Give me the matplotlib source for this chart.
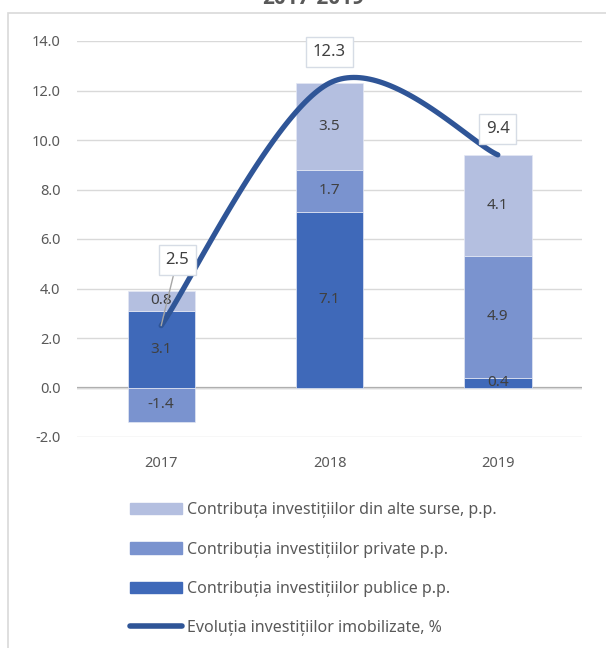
import matplotlib
matplotlib.use("Agg")
import matplotlib.pyplot as plt
from matplotlib.patches import Rectangle, Patch
from matplotlib.lines import Line2D
import numpy as np

plt.rcParams['font.family'] = ['Noto Sans', 'DejaVu Sans']

years = ['2017', '2018', '2019']
alte = [0.8, 3.5, 4.1]
private = [-1.4, 1.7, 4.9]
publice = [3.1, 7.1, 0.4]
evolutie = [2.5, 12.3, 9.4]
yticks = [-2, 0, 2, 4, 6, 8, 10, 12, 14]

c_alte = '#B4BFE0'
c_priv = '#7A93CF'
c_publ = '#3F69B9'
c_line = '#2F5597'
c_text = '#404040'
c_tick = '#595959'


def smooth(xs, ys, n=60):
    # Excel-like smoothed line (Catmull-Rom bezier through the points)
    px = np.array(xs, float)
    py = np.array(ys, float)
    outx, outy = [], []
    for i in range(len(px) - 1):
        i0 = max(i - 1, 0)
        i3 = min(i + 2, len(px) - 1)
        p0 = np.array([px[i], py[i]])
        p3 = np.array([px[i + 1], py[i + 1]])
        t0 = (np.array([px[i + 1], py[i + 1]]) - np.array([px[i0], py[i0]])) / 2
        t1 = (np.array([px[i3], py[i3]]) - np.array([px[i], py[i]])) / 2
        p1 = p0 + t0 / 3
        p2 = p3 - t1 / 3
        t = np.linspace(0, 1, n)[:, None]
        b = (1 - t) ** 3 * p0 + 3 * (1 - t) ** 2 * t * p1 + 3 * (1 - t) * t ** 2 * p2 + t ** 3 * p3
        outx.extend(b[:, 0])
        outy.extend(b[:, 1])
    return outx, outy


fig = plt.figure(figsize=(6.06, 6.48), dpi=100)
ax = fig.add_axes([77 / 606, 1 - 437 / 648, 505 / 606, 396 / 648])

x = np.arange(len(years))
pos_base = np.zeros(len(years))
neg_base = np.zeros(len(years))
for vals, col in [(publice, c_publ), (private, c_priv), (alte, c_alte)]:
    vals = np.array(vals)
    bottoms = np.where(vals >= 0, pos_base, neg_base)
    ax.bar(x, vals, 0.4, bottom=bottoms, color=col, edgecolor='#E4E8F4',
           linewidth=0.5, zorder=2)
    for xi, v, b in zip(x, vals, bottoms):
        ax.text(xi, b + v / 2, f'{v:.1f}', ha='center', va='center',
                fontsize=11, color=c_text, zorder=3)
    pos_base = pos_base + np.where(vals >= 0, vals, 0)
    neg_base = neg_base + np.where(vals < 0, vals, 0)

sx, sy = smooth(x, evolutie)
ax.plot(sx, sy, color=c_line, lw=3.8, solid_capstyle='round', zorder=4)

box = dict(boxstyle='square,pad=0.4', fc='white', ec='#D6DCE5', lw=1)
label_pos = [(0.095, 5.15), (1.0, 13.55), (2.0, 10.45)]
for i, (v, (lx, ly)) in enumerate(zip(evolutie, label_pos)):
    arrow = dict(arrowstyle='-', color='#A6A6A6', lw=1, shrinkA=0, shrinkB=0) if i == 0 else None
    ax.annotate(f'{v:.1f}', xy=(x[i], v), xytext=(lx, ly), ha='center', va='center',
                fontsize=12, color=c_text, bbox=box, arrowprops=arrow, zorder=5)

ax.set_xlim(-0.5, 2.5)
ax.set_ylim(-2, 14)
ax.set_yticks(yticks)
ax.set_yticklabels([f'{t:.1f}' for t in yticks])
ax.set_xticks(x)
ax.set_xticklabels(years)
ax.tick_params(axis='y', length=0, pad=12, labelsize=10.5, labelcolor=c_tick)
ax.tick_params(axis='x', length=0, pad=14, labelsize=10.5, labelcolor=c_tick)
ax.grid(axis='y', color='#D9D9D9', lw=1, zorder=0)
ax.axhline(0, color='#A6A6A6', lw=1.6, zorder=1)
for s in ax.spines.values():
    s.set_visible(False)

handles = [Patch(color=c_alte), Patch(color=c_priv), Patch(color=c_publ),
           Line2D([0], [0], color=c_line, lw=4, solid_capstyle='round')]
labels = ['Contribuța investițiilor din alte surse, p.p.',
          'Contribuția investițiilor private p.p.',
          'Contribuția investițiilor publice p.p.',
          'Evoluția investițiilor imobilizate, %']
fig.legend(handles, labels, loc='upper left', bbox_to_anchor=(116 / 606, 1 - 488 / 648),
           frameon=False, fontsize=11.5, handlelength=3.25, handletextpad=0.3,
           labelspacing=1.45, labelcolor=c_tick)

fig.add_artist(Rectangle((8 / 606, -0.05), 1.0, 1.05 - 13 / 648, transform=fig.transFigure,
                         fill=False, ec='#D9D9D9', lw=1.2))
fig.text(313 / 606, 1 - 4 / 648, '2017-2019', ha='center', va='baseline',
         fontsize=15, fontweight='bold', color=c_tick, family=['Open Sans', 'DejaVu Sans'])

fig.savefig('out.png', dpi=100)
